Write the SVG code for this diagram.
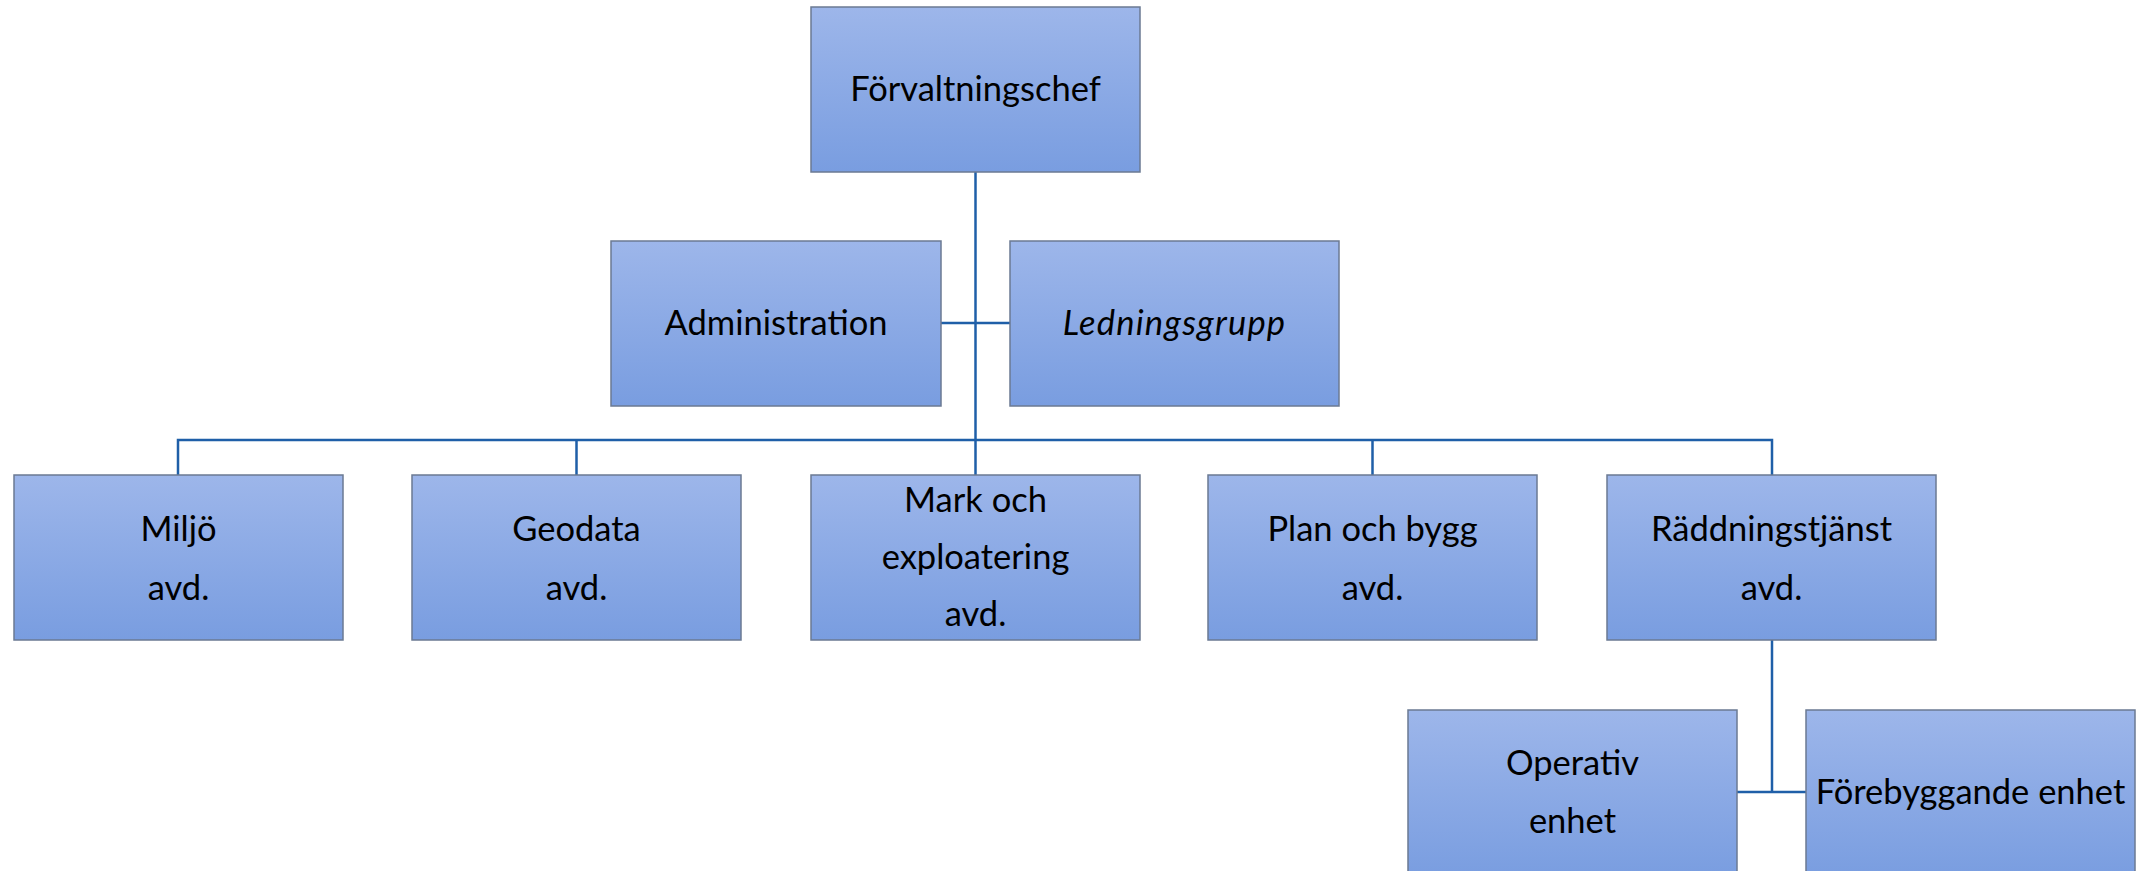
<svg xmlns="http://www.w3.org/2000/svg" width="2148" height="871" viewBox="0 0 2148 871">
<defs>
<linearGradient id="g" x1="0" y1="0" x2="0" y2="1">
<stop offset="0" stop-color="#9db6ea"/>
<stop offset="1" stop-color="#799de0"/>
</linearGradient>
<style>
.box{fill:url(#g);stroke:#6b7a93;stroke-width:1.5}
.t{font-family:Lato,"Liberation Sans",sans-serif;font-size:34.5px;fill:#000;text-anchor:middle}
.i{font-style:italic;letter-spacing:1.2px}
.c{fill:none;stroke:#1f5fa8;stroke-width:2.5}
</style>
</defs>
<rect width="2148" height="871" fill="#fff"/>
<g id="connectors">
<path class="c" d="M975.5 172V440"/>
<path class="c" d="M941 323H1010"/>
<path class="c" d="M178 475V440H1772V475"/>
<path class="c" d="M576.5 440V475M975.5 440V475M1372.5 440V475"/>
<path class="c" d="M1772 640V792"/>
<path class="c" d="M1737 792H1806"/>
</g>
<g id="forvaltningschef"><rect class="box" x="811" y="7" width="329" height="165"/><text class="t" x="975.5" y="101">Förvaltningschef</text></g>
<g id="administration"><rect class="box" x="611" y="241" width="330" height="165"/><text class="t" x="776" y="335">Administration</text></g>
<g id="ledningsgrupp"><rect class="box" x="1010" y="241" width="329" height="165"/><text class="t i" x="1174.5" y="335">Ledningsgrupp</text></g>
<g id="miljo"><rect class="box" x="14" y="475" width="329" height="165"/><text class="t" x="178.5"><tspan x="178.5" y="541">Miljö</tspan><tspan x="178.5" y="600">avd.</tspan></text></g>
<g id="geodata"><rect class="box" x="412" y="475" width="329" height="165"/><text class="t" x="576.5"><tspan x="576.5" y="541">Geodata</tspan><tspan x="576.5" y="600">avd.</tspan></text></g>
<g id="mark"><rect class="box" x="811" y="475" width="329" height="165"/><text class="t" x="975.5"><tspan x="975.5" y="512">Mark och</tspan><tspan x="975.5" y="569">exploatering</tspan><tspan x="975.5" y="626">avd.</tspan></text></g>
<g id="plan"><rect class="box" x="1208" y="475" width="329" height="165"/><text class="t" x="1372.5"><tspan x="1372.5" y="541">Plan och bygg</tspan><tspan x="1372.5" y="600">avd.</tspan></text></g>
<g id="raddning"><rect class="box" x="1607" y="475" width="329" height="165"/><text class="t" x="1771.5"><tspan x="1771.5" y="541">Räddningstjänst</tspan><tspan x="1771.5" y="600">avd.</tspan></text></g>
<g id="operativ"><rect class="box" x="1408" y="710" width="329" height="168"/><text class="t" x="1572.5"><tspan x="1572.5" y="775">Operativ</tspan><tspan x="1572.5" y="833">enhet</tspan></text></g>
<g id="forebyggande"><rect class="box" x="1806" y="710" width="329" height="168"/><text class="t" x="1970.5" y="804">Förebyggande enhet</text></g>
</svg>
